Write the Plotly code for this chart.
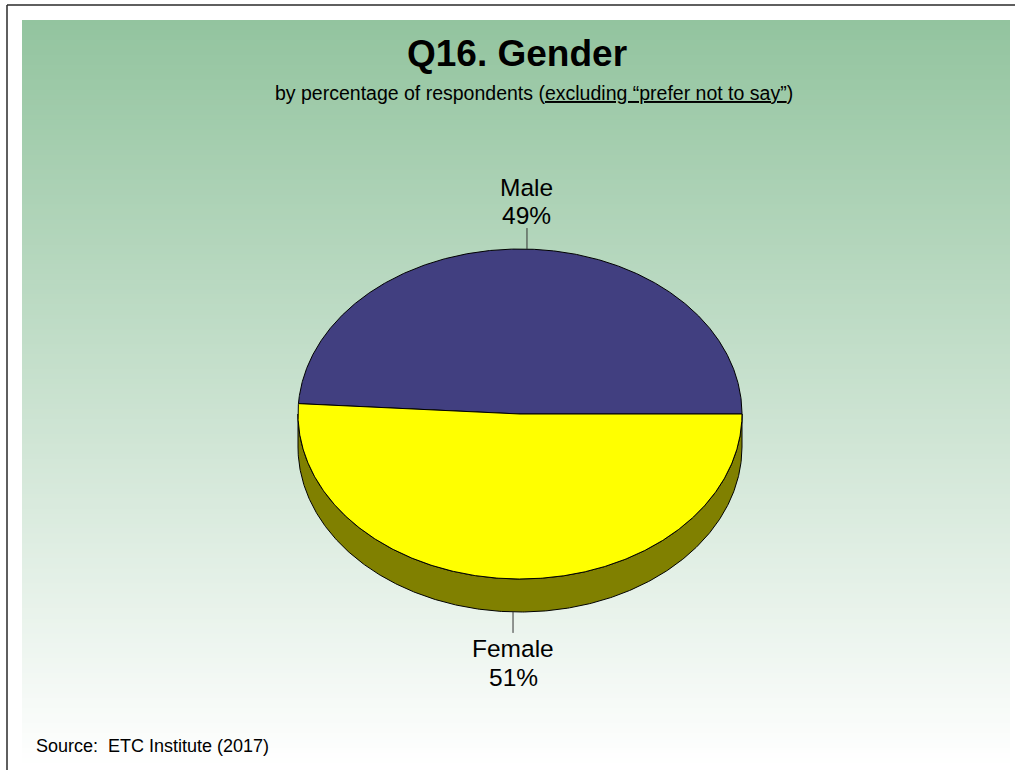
import numpy as np
import plotly.graph_objects as go

# ---- data ----
categories = ["Male", "Female"]
percents = [49, 51]
slice_colors = ["#413F80", "#FFFF00"]
side_colors = ["#2A2955", "#808000"]
title_text = "<b>Q16. Gender</b>"
subtitle_text = "by percentage of respondents (<u>excluding \u201cprefer not to say\u201d</u>)"
source_text = "Source:  ETC Institute (2017)"

# ---- layout / style params (pixels) ----
W, H = 1015, 770
CX, CY, RX, RY, DEPTH = 520, 414, 222, 165, 33
FONT = "Liberation Sans, Arial, sans-serif"

fig = go.Figure()

# background gradient (green -> white)
top_c = np.array([147, 196, 159])
bot_c = np.array([255, 255, 255])
y0, y1 = 20, 768
nb = 150
shapes = []
edges = np.linspace(y0, y1, nb + 1)
for i in range(nb):
    f = i / (nb - 1)
    c = top_c + (bot_c - top_c) * f
    shapes.append(dict(type="rect", xref="x", yref="y", x0=22, x1=1010,
                       y0=edges[i], y1=edges[i + 1] + 0.8, line=dict(width=0),
                       fillcolor="rgb(%d,%d,%d)" % tuple(c.round().astype(int)), layer="below"))
# page border (top & left)
shapes.append(dict(type="line", xref="x", yref="y", x0=7, x1=W, y0=5, y1=5,
                   line=dict(color="#2a2a2a", width=1.5)))
shapes.append(dict(type="line", xref="x", yref="y", x0=7, x1=7, y0=5, y1=H,
                   line=dict(color="#2a2a2a", width=1.5)))


def pt(theta_deg, dy=0.0):
    t = np.radians(theta_deg)
    return CX + RX * np.cos(t), CY - RY * np.sin(t) + dy


total = float(sum(percents))
starts, ends = [], []
acc = 0.0
for v in percents:
    starts.append(acc / total * 360.0)
    acc += v
    ends.append(acc / total * 360.0)

# sides (visible where the rim faces the viewer: 180..360 deg)
for i, cat in enumerate(categories):
    a0, a1 = max(starts[i], 180.0), min(ends[i], 360.0)
    if a1 <= a0:
        continue
    th = np.linspace(a0, a1, 400)
    xt, yt = pt(th)
    xb, yb = pt(th[::-1], DEPTH)
    xs = np.concatenate([xt, xb, xt[:1]])
    ys = np.concatenate([yt, yb, yt[:1]])
    fig.add_trace(go.Scatter(x=xs, y=ys, mode="lines", fill="toself",
                             fillcolor=side_colors[i], line=dict(color="black", width=1),
                             hoverinfo="skip", showlegend=False))

# top faces
for i, cat in enumerate(categories):
    th = np.linspace(starts[i], ends[i], 500)
    xa, ya = pt(th)
    xs = np.concatenate([[CX], xa, [CX]])
    ys = np.concatenate([[CY], ya, [CY]])
    fig.add_trace(go.Scatter(x=xs, y=ys, mode="lines", fill="toself",
                             fillcolor=slice_colors[i], line=dict(color="black", width=1),
                             hoverinfo="skip", showlegend=False))

# labels with leader lines
annotations = []
LEAD = 21
LABEL_SIZE = 24.5
for i, cat in enumerate(categories):
    mid = (starts[i] + ends[i]) / 2.0
    s = np.sin(np.radians(mid))
    if s >= 0:
        ex, ey = pt(mid)
        ly = ey - LEAD
        name_y, pct_y = ly - 41, ly - 13
    else:
        ex, ey = pt(mid, DEPTH)
        ly = ey + LEAD
        name_y, pct_y = ly + 16, ly + 45
    fig.add_trace(go.Scatter(x=[ex, ex], y=[ey, ly], mode="lines",
                             line=dict(color="#333333", width=1),
                             hoverinfo="skip", showlegend=False))
    annotations.append(dict(x=ex, y=name_y, xref="x", yref="y", showarrow=False,
                            text=cat, font=dict(family=FONT, size=LABEL_SIZE, color="black"),
                            xanchor="center", yanchor="middle"))
    annotations.append(dict(x=ex, y=pct_y, xref="x", yref="y", showarrow=False,
                            text="%d%%" % percents[i],
                            font=dict(family=FONT, size=LABEL_SIZE, color="black"),
                            xanchor="center", yanchor="middle"))

annotations.append(dict(x=517, y=53, xref="x", yref="y", showarrow=False, text=title_text,
                        font=dict(family=FONT, size=37, color="black"),
                        xanchor="center", yanchor="middle"))
annotations.append(dict(x=534, y=93, xref="x", yref="y", showarrow=False, text=subtitle_text,
                        font=dict(family=FONT, size=19.5, color="black"),
                        xanchor="center", yanchor="middle"))
annotations.append(dict(x=34, y=746, xref="x", yref="y", showarrow=False, text=source_text,
                        font=dict(family=FONT, size=18, color="black"),
                        xanchor="left", yanchor="middle"))

fig.update_layout(
    width=W, height=H,
    margin=dict(l=0, r=0, t=0, b=0),
    paper_bgcolor="white", plot_bgcolor="rgba(0,0,0,0)",
    xaxis=dict(range=[0, W], visible=False, fixedrange=True),
    yaxis=dict(range=[H, 0], visible=False, fixedrange=True),
    shapes=shapes, annotations=annotations, showlegend=False,
)

fig.write_html("out.html", config={"displayModeBar": False},
               post_script="document.body.style.margin='0';document.body.style.overflow='hidden';")
